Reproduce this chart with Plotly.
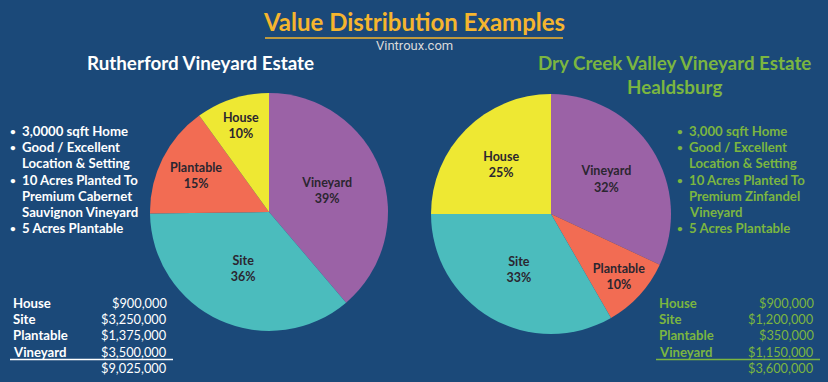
import plotly.graph_objects as go

W, H = 828, 382

# ---- data ----
left_labels = ["Vineyard", "Site", "Plantable", "House"]
left_values = [3500000, 3250000, 1375000, 900000]
right_labels = ["Vineyard", "Plantable", "Site", "House"]
right_values = [1150000, 350000, 1200000, 900000]

slice_colors = {"Vineyard": "#9B62A6", "Site": "#4BBCBD", "Plantable": "#F26C53", "House": "#EEE833"}

table_labels = ["House", "Site", "Plantable", "Vineyard"]

left_title = "Rutherford Vineyard Estate"
right_title = "Dry Creek Valley Vineyard Estate<br>Healdsburg"

left_bullets = [["3,0000 sqft Home"], ["Good / Excellent", "Location & Setting"],
                ["10 Acres Planted To", "Premium Cabernet", "Sauvignon Vineyard"], ["5 Acres Plantable"]]
right_bullets = [["3,000 sqft Home"], ["Good / Excellent", "Location & Setting"],
                 ["10 Acres Planted To", "Premium Zinfandel", "Vineyard"], ["5 Acres Plantable"]]

BG = "#1B4979"
GOLD = "#F5B52E"
GREEN = "#7BB640"
WHITE = "#FFFFFF"
DARK = "#2B2630"
FONT = "Lato"


def px(x):
    return x / W


def py(y):
    return 1 - y / H


def pie(labels, values, cx, cy, r):
    return go.Pie(
        labels=labels, values=values, sort=False, direction="clockwise", rotation=0,
        marker=dict(colors=[slice_colors[l] for l in labels], line=dict(width=0)),
        texttemplate="%{label}<br>%{percent:.0%}", textposition="inside",
        insidetextorientation="horizontal",
        textfont=dict(family=FONT, size=12.5, color=DARK, weight="bold"),
        domain=dict(x=[px(cx - r), px(cx + r)], y=[py(cy + r), py(cy - r)]),
        showlegend=False, hoverinfo="label+value+percent",
    )


fig = go.Figure()
fig.add_trace(pie(left_labels, left_values, 269, 212, 119))
fig.add_trace(pie(right_labels, right_values, 551, 214, 120))

ann = []
shapes = []


def text(x, y, s, color, size, anchor="left", weight="bold", family=FONT):
    ann.append(dict(x=px(x), y=py(y), xref="paper", yref="paper", text=s, showarrow=False,
                    xanchor=anchor, yanchor="middle",
                    font=dict(family=family, size=size, color=color, weight=weight)))


# Title
text(414, 21, "Value Distribution Examples", GOLD, 24, "center")
shapes.append(dict(type="line", xref="paper", yref="paper", x0=px(265), x1=px(563), y0=py(38), y1=py(38),
                   line=dict(color=GOLD, width=1.5)))
text(414, 46, "Vintroux.com", "#DADADA", 13, "center", "normal", "Roboto")

# Subtitles
text(200, 63, left_title, WHITE, 18.8, "center")
ann.append(dict(x=px(674), y=py(74), xref="paper", yref="paper", text=right_title, showarrow=False,
                xanchor="center", yanchor="middle", align="center",
                font=dict(family=FONT, size=18.8, color=GREEN, weight="bold")))


# Bullets
def bullets(items, bx, tx, color):
    y = 131
    step = 16.2
    for item in items:
        text(bx, y, "•", color, 10, "center")
        for line in item:
            text(tx, y, line, color, 13.2)
            y += step


bullets(left_bullets, 13, 20, WHITE)
bullets(right_bullets, 680, 687, GREEN)


# Tables
def table(labels, all_labels, values, lx, rx, color):
    vals = dict(zip(all_labels, values))
    rows = [303, 319, 335, 352]
    for lab, y in zip(labels, rows):
        text(lx, y, lab, color, 13.2)
        text(rx, y, "${:,.0f}".format(vals[lab]), color, 12.8, "right", "normal")
    text(rx, 368, "${:,.0f}".format(sum(values)), color, 12.8, "right", "normal")
    shapes.append(dict(type="line", xref="paper", yref="paper", x0=px(lx - 1), x1=px(rx + 4),
                       y0=py(359.5), y1=py(359.5), line=dict(color=color, width=1.5)))


table(table_labels, left_labels, left_values, 11, 169, WHITE)
table(table_labels, right_labels, right_values, 657, 816, GREEN)

fig.update_layout(
    width=W, height=H, margin=dict(l=0, r=0, t=0, b=0),
    paper_bgcolor=BG, plot_bgcolor=BG,
    annotations=ann, shapes=shapes,
    uniformtext=dict(minsize=12.5, mode="show"),
)

fig.write_html("out.html", config={"displayModeBar": False},
               post_script="document.body.style.margin='0';document.body.style.background='%s';" % BG)
